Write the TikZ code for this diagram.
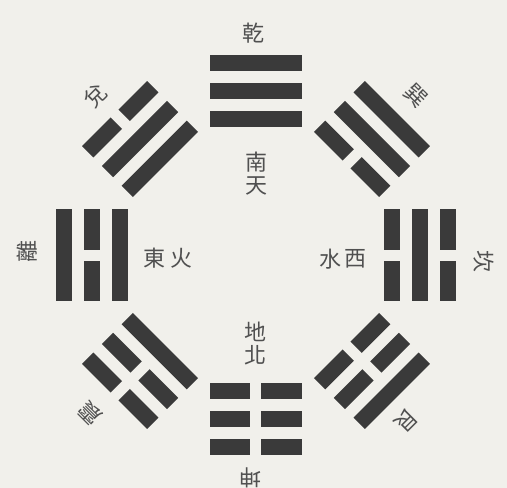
\documentclass[tikz,border=0pt]{standalone}
\usepackage{fontspec}
\newfontfamily\cjk{Noto Sans CJK TC}
\usetikzlibrary{positioning}

\definecolor{paper}{RGB}{241,240,235}
\definecolor{ink}{RGB}{58,58,58}
\definecolor{script}{RGB}{80,80,80}

\tikzset{
  yao/.style={fill=ink},
  gua/.style={font=\cjk\fontsize{22}{22}\selectfont,text=script,inner sep=0pt},
}

% one line of a trigram, #1 = distance from the centre
\newcommand{\yang}[1]{\fill[yao] (-46,#1-8) rectangle (46,#1+8);}
\newcommand{\yin}[1]{\fill[yao] (-46,#1-8) rectangle (-5.5,#1+8);
  \fill[yao] (5.5,#1-8) rectangle (46,#1+8);}
% a whole trigram, inner line first
\newcommand{\trigram}[4]{\begin{scope}[rotate=#1]
  #2{136} #3{164} #4{192}
\end{scope}}

\begin{document}
\begin{tikzpicture}[x=1pt,y=1pt]
       \fill[paper] (-256,-233) rectangle (251,255);
       \useasboundingbox (-256,-233) rectangle (251,255);

       \trigram{0}{\yang}{\yang}{\yang}
       \trigram{-45}{\yin}{\yang}{\yang}
       \trigram{-90}{\yin}{\yang}{\yin}
       \trigram{-135}{\yin}{\yin}{\yang}
       \trigram{180}{\yin}{\yin}{\yin}
       \trigram{135}{\yang}{\yin}{\yin}
       \trigram{90}{\yang}{\yin}{\yang}
       \trigram{45}{\yang}{\yang}{\yin}

       \node [gua] (qian) at (-2,222) {乾};
       \node [gua,rotate=-45] (xun) at (160,159) {巽};
       \node [gua,rotate=-90] (kan) at (228,-6) {坎};
       \node [gua,rotate=-135] (gen) at (150,-166) {艮};
       \node [gua,rotate=180] (kun) at (-5,-223) {坤};
       \node [gua,rotate=135] (zhen) at (-166,-158) {震};
       \node [gua,rotate=90] (li) at (-229,4) {離};
       \node [gua,rotate=45] (dui) at (-160,159) {兌};

       \node [gua] (nan) at (1,93) {南};
       \node [gua,below=4pt of nan] (tian) {天};
       \node [gua] (dong) at (-101,-3) {東};
       \node [gua,right=4pt of dong] (huo) {火};
       \node [gua] (shui) at (75,-4) {水};
       \node [gua,right=2pt of shui] (xi) {西};
       \node [gua] (di) at (0,-77) {地};
       \node [gua,below=3pt of di] (bei) {北};
     \end{tikzpicture}
\end{document}
